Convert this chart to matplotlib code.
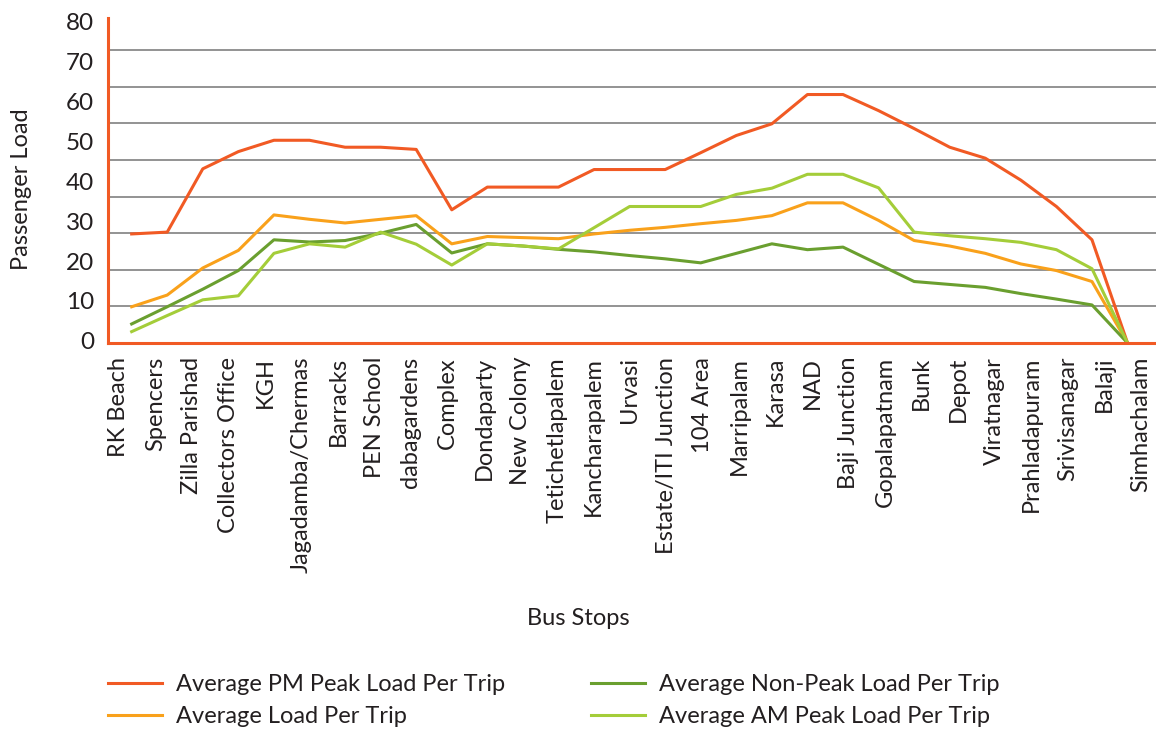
import numpy as np
import matplotlib.pyplot as plt

plt.rcParams["font.family"] = ["Lato", "DejaVu Sans"]

stops = ["RK Beach", "Spencers", "Zilla Parishad", "Collectors Office", "KGH",
         "Jagadamba/Chermas", "Barracks", "PEN School", "dabagardens", "Complex",
         "Dondaparty", "New Colony", "Tetichetlapalem", "Kancharapalem", "Urvasi",
         "Estate/ITI Junction", "104 Area", "Marripalam", "Karasa", "NAD",
         "Baji Junction", "Gopalapatnam", "Bunk", "Depot", "Viratnagar",
         "Prahladapuram", "Srivisanagar", "Balaji", "Simhachalam"]

pm_peak = [29.8, 30.3, 47.6, 52.3, 55.4, 55.4, 53.5, 53.5, 52.9, 36.4,
           42.6, 42.6, 42.6, 47.4, 47.4, 47.4, 52.0, 56.7, 59.9, 67.9,
           67.9, 63.5, 58.6, 53.5, 50.5, 44.5, 37.3, 28.2, 0]
avg_load = [9.9, 13.1, 20.5, 25.3, 35.0, 33.8, 32.8, 33.8, 34.8, 27.1,
            29.1, 28.8, 28.5, 29.8, 30.8, 31.6, 32.6, 33.5, 34.8, 38.3,
            38.3, 33.5, 28.0, 26.5, 24.5, 21.6, 19.8, 16.8, 0]
non_peak = [5.2, 9.9, 14.7, 19.8, 28.2, 27.6, 28.0, 30.0, 32.4, 24.6,
            27.1, 26.5, 25.6, 24.9, 23.9, 23.0, 21.9, 24.5, 27.1, 25.5,
            26.2, 21.5, 16.8, 16.0, 15.2, 13.5, 12.0, 10.4, 0]
am_peak = [3.1, 7.5, 11.8, 12.9, 24.5, 27.1, 26.2, 30.3, 27.0, 21.3,
           27.1, 26.5, 25.7, 31.5, 37.3, 37.3, 37.3, 40.6, 42.3, 46.1,
           46.1, 42.4, 30.3, 29.3, 28.5, 27.5, 25.5, 20.3, 0]

y_labels = [0, 10, 20, 30, 40, 50, 60, 70, 80]

red = "#F15A24"
orange = "#F9A11B"
dgreen = "#6A9F2F"
lgreen = "#A4CD39"
txt = "#231f20"

fig = plt.figure(figsize=(11.56, 7.29), dpi=100)
ax = fig.add_axes([0.0934, 0.5295, 0.9066, 0.4455])

x = np.arange(len(stops))
ax.plot(x, pm_peak, color=red, lw=2.2, label="Average PM Peak Load Per Trip")
ax.plot(x, avg_load, color=orange, lw=2.2, label="Average Load Per Trip")
ax.plot(x, non_peak, color=dgreen, lw=2.2, label="Average Non-Peak Load Per Trip")
ax.plot(x, am_peak, color=lgreen, lw=2.2, label="Average AM Peak Load Per Trip")

ax.set_xlim(-0.666, 28.8)
ax.set_ylim(0, 88.75)

# gridlines at the tens, labels drawn slightly off them as in the source
ax.set_yticks(y_labels[1:], minor=True)
ax.grid(True, which="minor", axis="y", color="#8a8a8a", lw=1.3)
ax.tick_params(axis="y", which="minor", length=0)
ax.set_yticks([0.6 + v * 1.089 for v in y_labels])
ax.set_yticklabels([str(v) for v in y_labels], fontsize=17.5, color=txt)
ax.tick_params(axis="y", which="major", length=0, pad=10)

ax.set_xticks(-0.357 + 1.026 * x)
ax.set_xticklabels(stops, rotation=90, fontsize=17, color=txt)
ax.tick_params(axis="x", length=0, pad=10)

for s in ["top", "right"]:
    ax.spines[s].set_visible(False)
ax.spines["left"].set_color(red)
ax.spines["bottom"].set_color(red)
ax.spines["left"].set_linewidth(2.2)
ax.spines["bottom"].set_linewidth(2.2)
ax.set_axisbelow(True)

fig.text(0.019, 0.74, "Passenger Load", rotation=90, fontsize=17,
         ha="center", va="center", color=txt)
fig.text(0.5, 0.152, "Bus Stops", fontsize=17, ha="center", va="center",
         color=txt)

fig.legend(loc="upper left", bbox_to_anchor=(0.075, 0.104), ncol=2, frameon=False,
           fontsize=17, handlelength=2.3, handletextpad=0.6, columnspacing=3.6,
           labelspacing=0.45, labelcolor=txt)

fig.savefig("out.png", dpi=100)
